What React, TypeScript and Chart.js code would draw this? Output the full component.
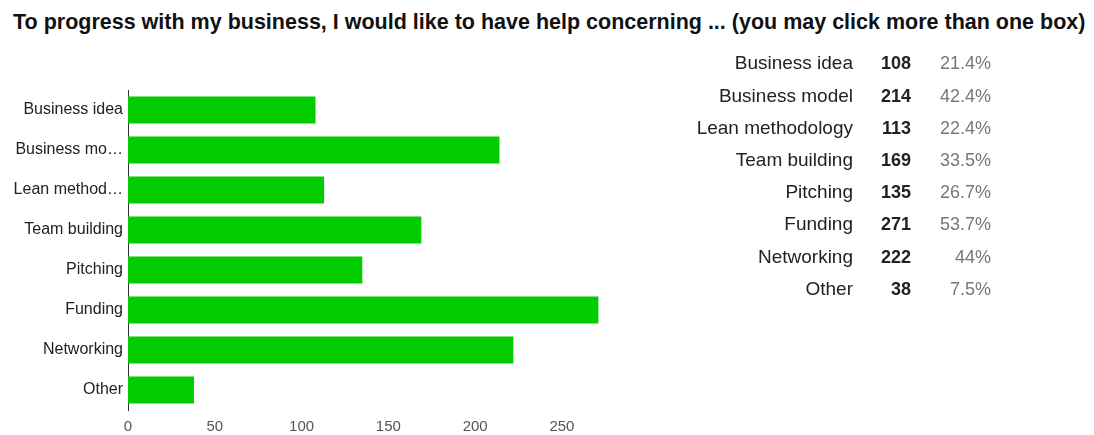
import React, { useEffect, useRef } from "react";
import { Chart, registerables } from "chart.js";

Chart.register(...registerables);

const title =
  "To progress with my business, I would like to have help concerning ... (you may click more than one box)";
const categories = [
  "Business idea",
  "Business model",
  "Lean methodology",
  "Team building",
  "Pitching",
  "Funding",
  "Networking",
  "Other",
];
const counts = [108, 214, 113, 169, 135, 271, 222, 38];
const percents = ["21.4%", "42.4%", "22.4%", "33.5%", "26.7%", "53.7%", "44%", "7.5%"];
const xTicks = [0, 50, 100, 150, 200, 250];

const FONT = "'Liberation Sans', Arial, sans-serif";

function truncate(s: string): string {
  return s.length > 13 ? s.slice(0, 11) + "\u2026" : s;
}

export default function App() {
  const canvasRef = useRef<HTMLCanvasElement | null>(null);

  useEffect(() => {
    const canvas = canvasRef.current;
    if (!canvas) return;
    const chart = new Chart(canvas, {
      type: "bar",
      data: {
        labels: categories,
        datasets: [
          {
            data: counts,
            backgroundColor: "#00cc00",
            borderWidth: 0,
            categoryPercentage: 0.68,
            barPercentage: 1,
          },
        ],
      },
      options: {
        indexAxis: "y",
        responsive: false,
        animation: false,
        layout: { padding: { top: 90, right: 26, left: 0, bottom: 0 } },
        plugins: {
          legend: { display: false },
          tooltip: { enabled: false },
          title: { display: false },
        },
        scales: {
          x: {
            type: "linear",
            min: 0,
            max: 280,
            grid: { display: false, drawTicks: false },
            border: { display: false },
            afterBuildTicks: (scale: any) => {
              scale.ticks = xTicks.map((v) => ({ value: v }));
            },
            afterFit: (scale: any) => {
              scale.height = 25;
            },
            ticks: {
              padding: 8,
              color: "#555",
              font: { family: FONT, size: 15 },
              maxRotation: 0,
              autoSkip: false,
            },
          },
          y: {
            type: "category",
            grid: { display: false, drawTicks: false },
            border: { display: true, color: "#333", width: 1 },
            afterFit: (scale: any) => {
              scale.width = 128;
            },
            ticks: {
              padding: 5,
              color: "#222",
              font: { family: FONT, size: 16 },
              autoSkip: false,
              callback: (_v: any, i: number) => truncate(categories[i]),
            },
          },
        },
      },
    } as any);
    return () => chart.destroy();
  }, []);

  const rowTop = 47.3;
  const rowH = 32.2;

  return (
    <div
      style={{
        position: "absolute",
        left: 0,
        top: 0,
        width: 1094,
        height: 435,
        background: "#fff",
        overflow: "hidden",
        fontFamily: FONT,
      }}
    >
      <div
        style={{
          position: "absolute",
          left: 13,
          top: 9.5,
          whiteSpace: "nowrap",
          fontWeight: "bold",
          fontSize: 21.5,
          lineHeight: "25px",
          color: "#111",
        }}
      >
        {title}
      </div>
      <canvas
        ref={canvasRef}
        width={640}
        height={435}
        style={{ position: "absolute", left: 0, top: 0, width: 640, height: 435 }}
      />
      {categories.map((c, i) => (
        <React.Fragment key={c}>
          <div
            style={{
              position: "absolute",
              left: 600,
              width: 253,
              top: rowTop + i * rowH,
              height: rowH,
              lineHeight: rowH + "px",
              fontSize: 19,
              textAlign: "right",
              color: "#222",
              whiteSpace: "nowrap",
            }}
          >
            {c}
          </div>
          <div
            style={{
              position: "absolute",
              left: 860,
              width: 51,
              top: rowTop + i * rowH,
              height: rowH,
              lineHeight: rowH + "px",
              fontSize: 18,
              fontWeight: "bold",
              textAlign: "right",
              color: "#222",
            }}
          >
            {counts[i]}
          </div>
          <div
            style={{
              position: "absolute",
              left: 915,
              width: 76,
              top: rowTop + i * rowH,
              height: rowH,
              lineHeight: rowH + "px",
              fontSize: 18,
              textAlign: "right",
              color: "#777",
            }}
          >
            {percents[i]}
          </div>
        </React.Fragment>
      ))}
    </div>
  );
}
